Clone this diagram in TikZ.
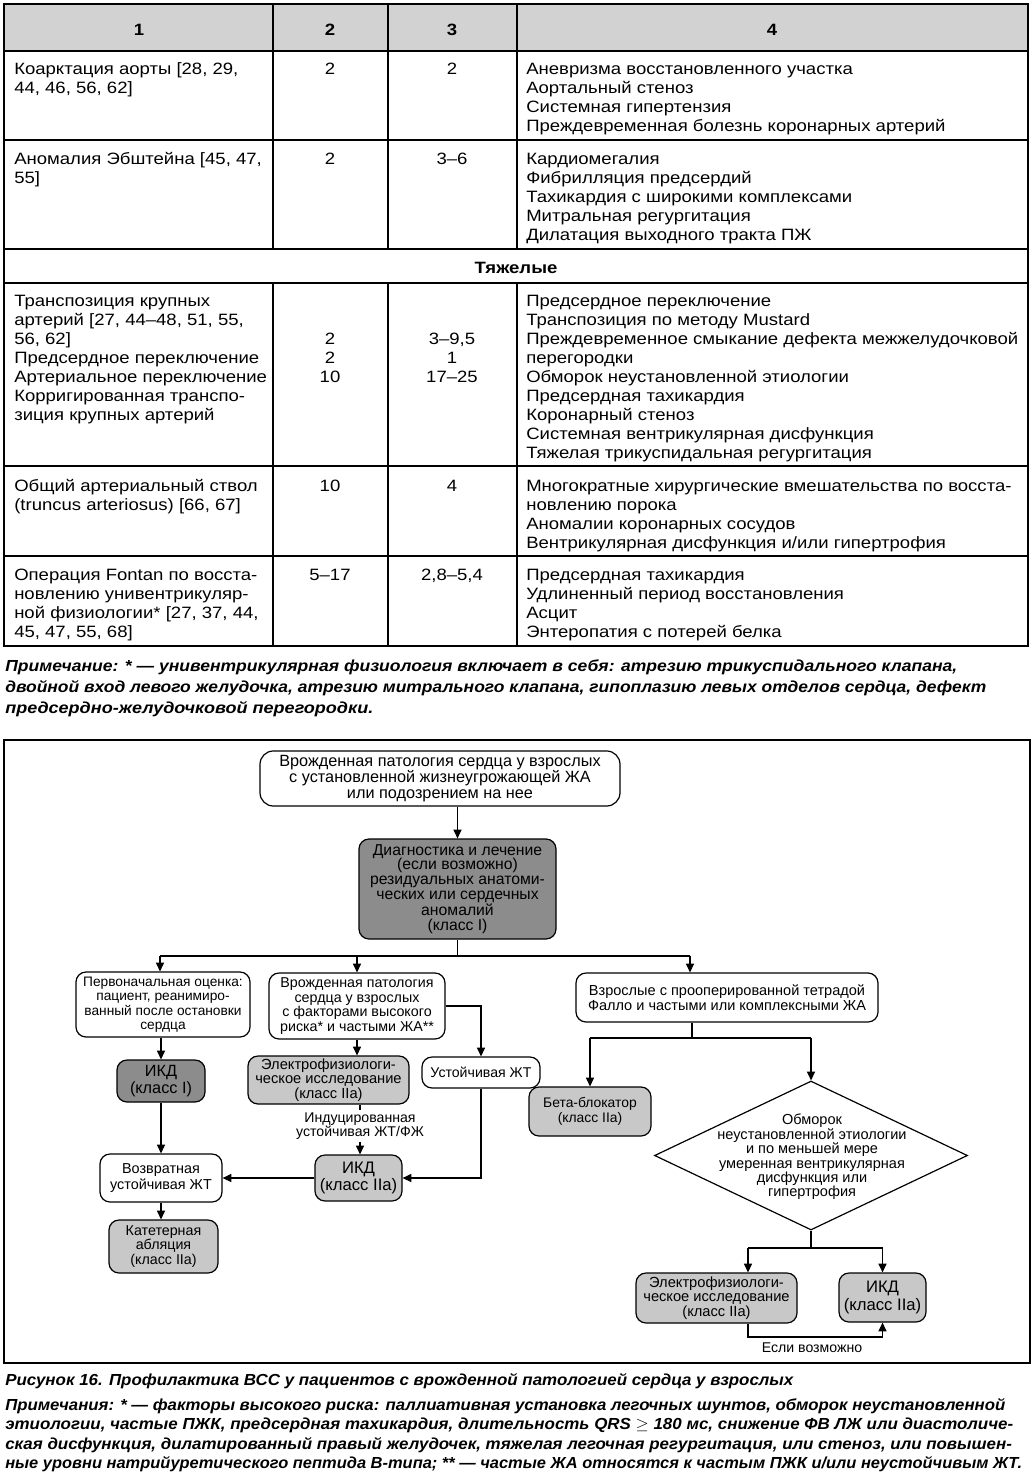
\documentclass[tikz,border=0pt]{standalone}
\usepackage{fontspec}
\usepackage{graphicx}
\setmainfont{Liberation Sans}
\newfontfamily\tabfont[FakeStretch=1.13]{Liberation Sans}
\usetikzlibrary{arrows.meta,shapes.geometric}
\definecolor{hdrgray}{RGB}{210,210,210}
\definecolor{lgray}{RGB}{200,200,200}
\definecolor{dgray}{RGB}{140,140,140}
\newcommand\ff[2]{\fontsize{#1}{#2}\selectfont}
\newcommand\tf{\tabfont\fontsize{12.3}{14.25}\selectfont}
\newcommand\fitto[2]{\resizebox{#1}{\height}{#2}}
\newcommand\tl[1]{\begin{tabular}[t]{@{}l@{}}#1\end{tabular}}
\newcommand\tcn[1]{\begin{tabular}[t]{@{}c@{}}#1\end{tabular}}
\begin{document}
\begin{tikzpicture}[x=0.75pt,y=-0.75pt,
  tline/.style={line width=1.25pt},
  tcl/.style={inner sep=0pt, anchor=base west, font=\tf},
  tcc/.style={inner sep=0pt, anchor=base, font=\tf},
  thd/.style={inner sep=0pt, anchor=base, font=\tf\bfseries},
  note/.style={inner sep=0pt, anchor=base west, font=\ff{12}{14}\bfseries\itshape},
  sz/.style 2 args={minimum width=#1*0.75pt, minimum height=#2*0.75pt},
  fbox/.style={draw, line width=0.9pt, rounded corners=7.5pt, inner sep=0pt, align=center, fill=white},
  lbox/.style={fbox, fill=lgray},
  dbox/.style={fbox, fill=dgray},
  arr/.style={line width=0.9pt, -{Triangle[length=6.5pt,width=6pt]}},
  ln/.style={line width=0.9pt},
]
\useasboundingbox (0,0) rectangle (1035,1473);
\fill[white] (0,0) rectangle (1035,1473);

% ---------------- table ----------------
\fill[hdrgray] (4,4) rectangle (1028,51);
\draw[tline] (4,4) rectangle (1028,646);
\foreach \y in {51,140,249,283,466,556} \draw[tline] (4,\y) -- (1028,\y);
\foreach \x in {273,388,517} {\draw[tline] (\x,4) -- (\x,249); \draw[tline] (\x,283) -- (\x,646);}

\node[thd] (h1) at (139,36) {1};
\node[thd] (h2) at (330,36) {2};
\node[thd] (h3) at (452,36) {3};
\node[thd] (h4) at (772,36) {4};

\node[tcl] (r1a) at (14,74.5) {\tl{Коарктация аорты [28, 29,\\44, 46, 56, 62]}};
\node[tcc] (r1b) at (330,74.5) {2};
\node[tcc] (r1c) at (452,74.5) {2};
\node[tcl] (r1d) at (526,74.5) {\tl{Аневризма восстановленного участка\\Аортальный стеноз\\Системная гипертензия\\Преждевременная болезнь коронарных артерий}};

\node[tcl] (r2a) at (14,165) {\tl{Аномалия Эбштейна [45, 47,\\55]}};
\node[tcc] (r2b) at (330,165) {2};
\node[tcc] (r2c) at (452,165) {3–6};
\node[tcl] (r2d) at (526,165) {\tl{Кардиомегалия\\Фибрилляция предсердий\\Тахикардия с широкими комплексами\\Митральная регургитация\\Дилатация выходного тракта ПЖ}};

\node[thd] (sev) at (516,273) {Тяжелые};

\node[tcl] (r3a) at (14,306.5) {\tl{Транспозиция крупных\\артерий [27, 44–48, 51, 55,\\56, 62]\\Предсердное переключение\\Артериальное переключение\\Корригированная транспо-\\зиция крупных артерий}};
\node[tcc] (r3b) at (330,344.5) {\tcn{2\\2\\10}};
\node[tcc] (r3c) at (452,344.5) {\tcn{3–9,5\\1\\17–25}};
\node[tcl] (r3d) at (526,306.5) {\tl{Предсердное переключение\\Транспозиция по методу Mustard\\Преждевременное смыкание дефекта межжелудочковой\\перегородки\\Обморок неустановленной этиологии\\Предсердная тахикардия\\Коронарный стеноз\\Системная вентрикулярная дисфункция\\Тяжелая трикуспидальная регургитация}};

\node[tcl] (r4a) at (14,491) {\tl{Общий артериальный ствол\\(truncus arteriosus) [66, 67]}};
\node[tcc] (r4b) at (330,491) {10};
\node[tcc] (r4c) at (452,491) {4};
\node[tcl] (r4d) at (526,491) {\tl{Многократные хирургические вмешательства по восста-\\новлению порока\\Аномалии коронарных сосудов\\Вентрикулярная дисфункция и/или гипертрофия}};

\node[tcl] (r5a) at (14,580) {\tl{Операция Fontan по восста-\\новлению унивентрикуляр-\\ной физиологии* [27, 37, 44,\\45, 47, 55, 68]}};
\node[tcc] (r5b) at (330,580) {5–17};
\node[tcc] (r5c) at (452,580) {2,8–5,4};
\node[tcl] (r5d) at (526,580) {\tl{Предсердная тахикардия\\Удлиненный период восстановления\\Асцит\\Энтеропатия с потерей белка}};

% ---------------- note 1 ----------------
\node[note] (n1) at (5,671) {\fitto{714pt}{Примечание: * — унивентрикулярная физиология включает в себя: атрезию трикуспидального клапана,}};
\node[note] (n2) at (5,692) {\fitto{735.75pt}{двойной вход левого желудочка, атрезию митрального клапана, гипоплазию левых отделов сердца, дефект}};
\node[note] (n3) at (5,713) {\fitto{276pt}{предсердно-желудочковой перегородки.}};

% ---------------- flowchart ----------------
\draw[ln] (4,740) rectangle (1030,1363);

\node[fbox, sz={360}{55}, rounded corners=10pt, font=\ff{12.2}{12}] (T) at (440,778.5)
  {Врожденная патология сердца у взрослых\\с установленной жизнеугрожающей ЖА\\или подозрением на нее};
\node[dbox, sz={197}{100}, font=\ff{11.8}{11}] (D) at (457.5,889)
  {Диагностика и лечение\\(если возможно)\\резидуальных анатоми-\\ческих или сердечных\\аномалий\\(класс I)};
\node[fbox, sz={174}{65}, font=\ff{10.3}{10.8}] (L1) at (163,1004.5)
  {Первоначальная оценка:\\пациент, реанимиро-\\ванный после остановки\\сердца};
\node[fbox, sz={176}{66}, font=\ff{10.7}{10.8}] (M1) at (357,1006)
  {Врожденная патология\\сердца у взрослых\\с факторами высокого\\риска* и частыми ЖА**};
\node[fbox, sz={302}{49}, font=\ff{10.9}{11.2}] (R1) at (727,997.5)
  {Взрослые с прооперированной тетрадой\\Фалло и частыми или комплексными ЖА};
\node[dbox, sz={88}{42}, font=\ff{12.2}{12.75}] (IK1) at (161,1081) {ИКД\\(класс I)};
\node[lbox, sz={161}{48}, font=\ff{11}{10.9}] (EP1) at (328.5,1080)
  {Электрофизиологи-\\ческое исследование\\(класс IIa)};
\node[fbox, sz={118}{31}, font=\ff{10.6}{12}] (UZ) at (481,1072.5) {Устойчивая ЖТ};
\node[inner sep=1.5pt, align=center, font=\ff{10.6}{10.5}] (IND) at (360,1126)
  {Индуцированная\\устойчивая ЖТ/ФЖ};
\node[lbox, sz={87}{46}, font=\ff{12.5}{13}] (IK2) at (358.5,1178) {ИКД\\(класс IIa)};
\node[fbox, sz={122}{48}, font=\ff{10.8}{12}] (VT) at (161,1178) {Возвратная\\устойчивая ЖТ};
\node[lbox, sz={109}{53}, font=\ff{10.7}{10.9}] (KA) at (163.5,1246.5) {Катетерная\\абляция\\(класс IIa)};
\node[lbox, sz={122}{49}, font=\ff{10.4}{11.25}] (BB) at (590,1111.5) {Бета-блокатор\\(класс IIa)};
\node[diamond, draw, line width=0.9pt, sz={313}{149}, inner sep=0pt, fill=white] (DM) at (811,1155.5) {};
\node[align=center, inner sep=0pt, font=\ff{10.9}{10.8}] (DMt) at (812,1157)
  {Обморок\\неустановленной этиологии\\и по меньшей мере\\умеренная вентрикулярная\\дисфункция или\\гипертрофия};
\node[lbox, sz={161}{50}, font=\ff{11}{10.9}] (EP2) at (716.5,1298)
  {Электрофизиологи-\\ческое исследование\\(класс IIa)};
\node[lbox, sz={87}{49}, font=\ff{12.5}{13}] (IK3) at (882.5,1297.5) {ИКД\\(класс IIa)};
\node[inner sep=0pt, font=\ff{10.6}{12}] (ES) at (812,1348) {Если возможно};

% connectors
\coordinate (hl) at (160,956);
\coordinate (hr) at (690,956);
\draw[arr] (T.south -| D.north) -- (D.north);
\draw[ln] (D.south) -- (D.south |- hl);
\draw[ln] (hl) -- (hr);
\draw[arr] (hl) -- (hl |- L1.north);
\draw[arr] (M1.north |- hl) -- (M1.north);
\draw[arr] (hr) -- (hr |- R1.north);
\draw[arr] (IK1.north |- L1.south) -- (IK1.north);
\draw[arr] (IK1.south) -- (IK1.south |- VT.north);
\draw[arr] (VT.south) -- (VT.south |- KA.north);
\draw[arr] (M1.south) -- (M1.south |- EP1.north);
\draw[ln] (IND.north |- EP1.south) -- (IND.north);
\draw[arr] (IND.south) -- (IND.south |- IK2.north);
\draw[arr] (IK2.west) -- (VT.east);
\draw[arr] (M1.east) -| (UZ.north);
\draw[arr] (UZ.south) |- (IK2.east);

\coordinate (rj) at (692,1038);
\draw[ln] (rj |- R1.south) -- (rj);
\draw[ln] (BB.north |- rj) -- (DM.north |- rj);
\draw[arr] (BB.north |- rj) -- (BB.north);
\draw[arr] (DM.north |- rj) -- (DM.north);
\coordinate (dj) at (812,1248);
\coordinate (ex) at (748,1248);
\draw[ln] (DM.south) -- (DM.south |- dj);
\draw[ln] (ex) -- (IK3.north |- dj);
\draw[arr] (ex) -- (ex |- EP2.north);
\draw[arr] (IK3.north |- dj) -- (IK3.north);
\coordinate (eb) at (748,1337);
\draw[arr] (eb |- EP2.south) -- (eb) -| (IK3.south);

% ---------------- caption and notes ----------------
\node[note] (cap) at (5,1385) {\fitto{591pt}{Рисунок 16. Профилактика ВСС у пациентов с врожденной патологией сердца у взрослых}};
\node[note] (m1) at (5,1410) {\fitto{750pt}{Примечания: * — факторы высокого риска: паллиативная установка легочных шунтов, обморок неустановленной}};
\node[note] (m2) at (5,1429.5) {\fitto{756pt}{этиологии, частые ПЖК, предсердная тахикардия, длительность QRS $\geq$ 180 мс, снижение ФВ ЛЖ или диастоличе-}};
\node[note] (m3) at (5,1449) {\fitto{755pt}{ская дисфункция, дилатированный правый желудочек, тяжелая легочная регургитация, или стеноз, или повышен-}};
\node[note] (m4) at (5,1468) {\fitto{762.75pt}{ные уровни натрийуретического пептида В-типа; ** — частые ЖА относятся к частым ПЖК и/или неустойчивым ЖТ.}};
\end{tikzpicture}
\end{document}
